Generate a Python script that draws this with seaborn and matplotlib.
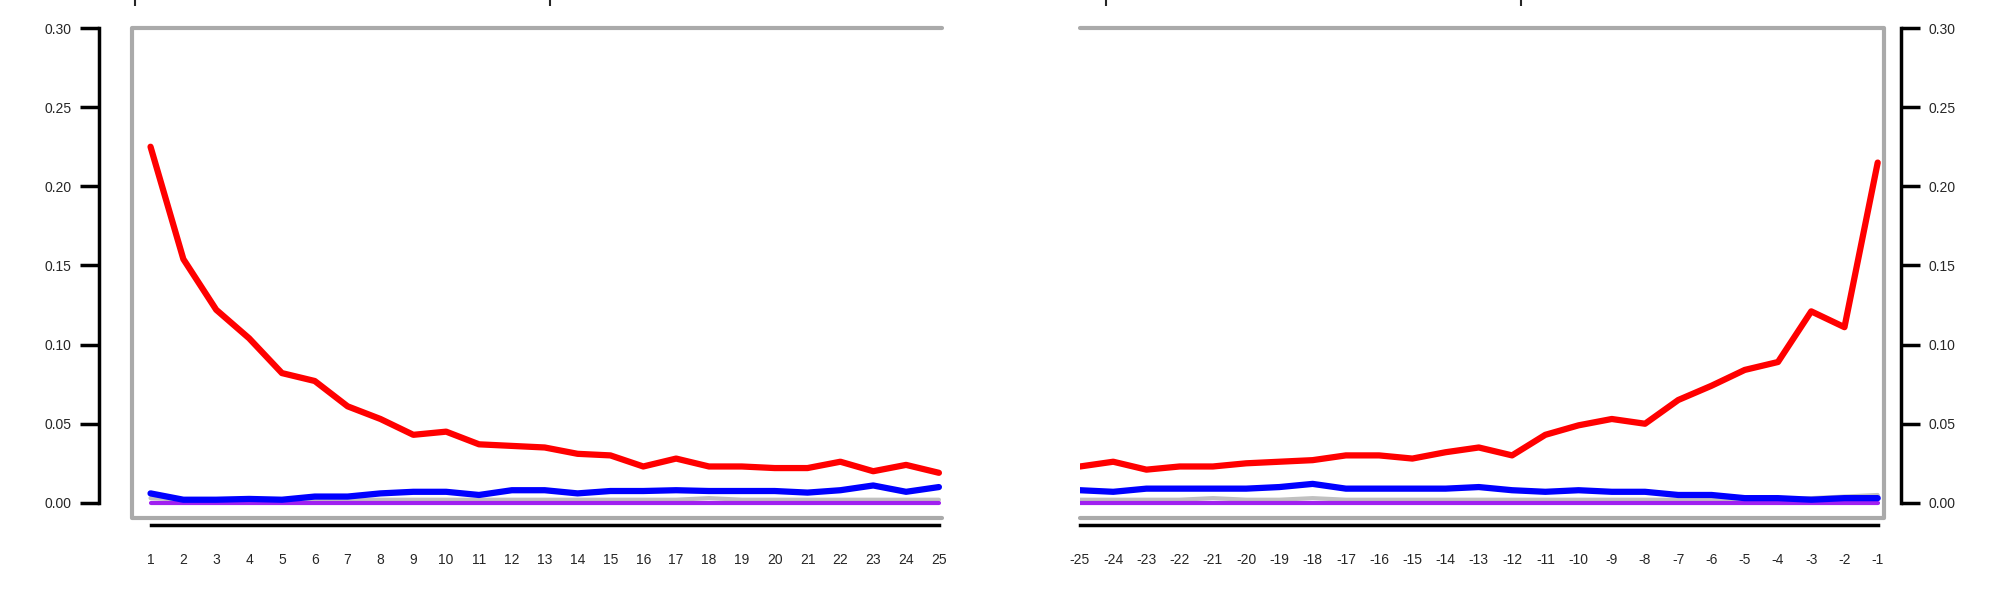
import matplotlib
matplotlib.use('Agg')
import matplotlib.pyplot as plt
import seaborn as sns
import numpy as np

sns.set_style('white')
plt.rcParams['font.family'] = ['Liberation Sans', 'DejaVu Sans']

# data
pos_x = list(range(1, 26))
neg_x = list(range(-25, 0))
pos_red = [.225, .154, .122, .104, .082, .077, .061, .053, .043, .045, .037, .036, .035,
           .031, .030, .023, .028, .023, .023, .022, .022, .026, .020, .024, .019]
pos_blue = [.006, .002, .002, .0025, .002, .004, .004, .006, .007, .007, .005, .008, .008,
            .006, .0075, .0075, .008, .0075, .0075, .0075, .0065, .008, .011, .007, .010]
pos_gray = [.003, .002, .002, .002, .002, .002, .002, .002, .002, .002, .002, .002, .002,
            .002, .002, .002, .002, .003, .002, .002, .002, .002, .002, .002, .002]
neg_red = [.023, .026, .021, .023, .023, .025, .026, .027, .030, .030, .028, .032, .035,
           .030, .043, .049, .053, .050, .065, .074, .084, .089, .121, .111, .215]
neg_blue = [.008, .007, .009, .009, .009, .009, .010, .012, .009, .009, .009, .009, .010,
            .008, .007, .008, .007, .007, .005, .005, .003, .003, .002, .003, .003]
neg_gray = [.002, .002, .002, .002, .003, .002, .002, .003, .002, .002, .002, .002, .002,
            .002, .002, .002, .002, .002, .002, .002, .002, .002, .003, .004, .005]
zeros = [0.0] * 25

yticks = [0.0, 0.05, 0.10, 0.15, 0.20, 0.25, 0.30]
ylabels = ['0.00', '0.05', '0.10', '0.15', '0.20', '0.25', '0.30']

fig = plt.figure(figsize=(20.16, 5.96), dpi=100)
ax1 = fig.add_axes([0.0657, 0.131, 0.4015, 0.822])
ax2 = fig.add_axes([0.5357, 0.131, 0.399, 0.822])

frame_c = '#aaaaaa'
for ax, xs, red, blue, gray, side in [(ax1, pos_x, pos_red, pos_blue, pos_gray, 'left'),
                                      (ax2, neg_x, neg_red, neg_blue, neg_gray, 'right')]:
    sns.lineplot(x=xs, y=gray, ax=ax, color='#c0c0c0', lw=3)
    sns.lineplot(x=xs, y=zeros, ax=ax, color='#a020f0', lw=3)
    sns.lineplot(x=xs, y=blue, ax=ax, color='#0000ff', lw=4.5)
    sns.lineplot(x=xs, y=red, ax=ax, color='#ff0000', lw=4.5)
    ax.set_ylim(-0.0095, 0.30)
    ax.set_xticks(xs)
    ax.set_xticklabels([str(v) for v in xs], rotation=90, fontsize=17)
    ax.set_yticks(yticks)
    ax.set_yticklabels(ylabels, fontsize=17)
    ax.tick_params(axis='both', length=14, width=2.5, color='black', direction='out', pad=6)
    for s in ax.spines.values():
        s.set_visible(False)
    ax.spines['bottom'].set_visible(True)
    ax.spines['bottom'].set_color('black')
    ax.spines['bottom'].set_linewidth(2.5)
    ax.spines['bottom'].set_position(('outward', 5))
    ax.spines['bottom'].set_bounds(xs[0], xs[-1])
    ax.spines[side].set_visible(True)
    ax.spines[side].set_color('black')
    ax.spines[side].set_linewidth(2.5)
    ax.spines[side].set_bounds(0, 0.30)
    # gray open frame
    if side == 'left':
        ax.plot([1, 0, 0, 1], [1, 1, 0, 0], transform=ax.transAxes, color=frame_c, lw=3, clip_on=False)
    else:
        ax.plot([0, 1, 1, 0], [1, 1, 0, 0], transform=ax.transAxes, color=frame_c, lw=3, clip_on=False)

ax1.set_xlim(0.45, 25.09)
ax1.spines['left'].set_position(('outward', 24))
ax1.yaxis.set_ticks_position('left')
ax2.set_xlim(-25.0, -0.8)
ax2.spines['right'].set_position(('outward', 12))
ax2.yaxis.set_ticks_position('right')
ax2.yaxis.set_label_position('right')

# stray tick marks from a panel above
top = fig.add_axes([0, 0.99, 1, 0.01])
top.set_xlim(0, 2016)
top.set_xticks([135, 550, 1106, 1521])
top.set_xticklabels([])
top.set_yticks([])
top.tick_params(axis='x', length=8, width=1.5, direction='in', bottom=True)
for s in top.spines.values():
    s.set_visible(False)
top.patch.set_alpha(0)

fig.savefig('out.png', dpi=100)
